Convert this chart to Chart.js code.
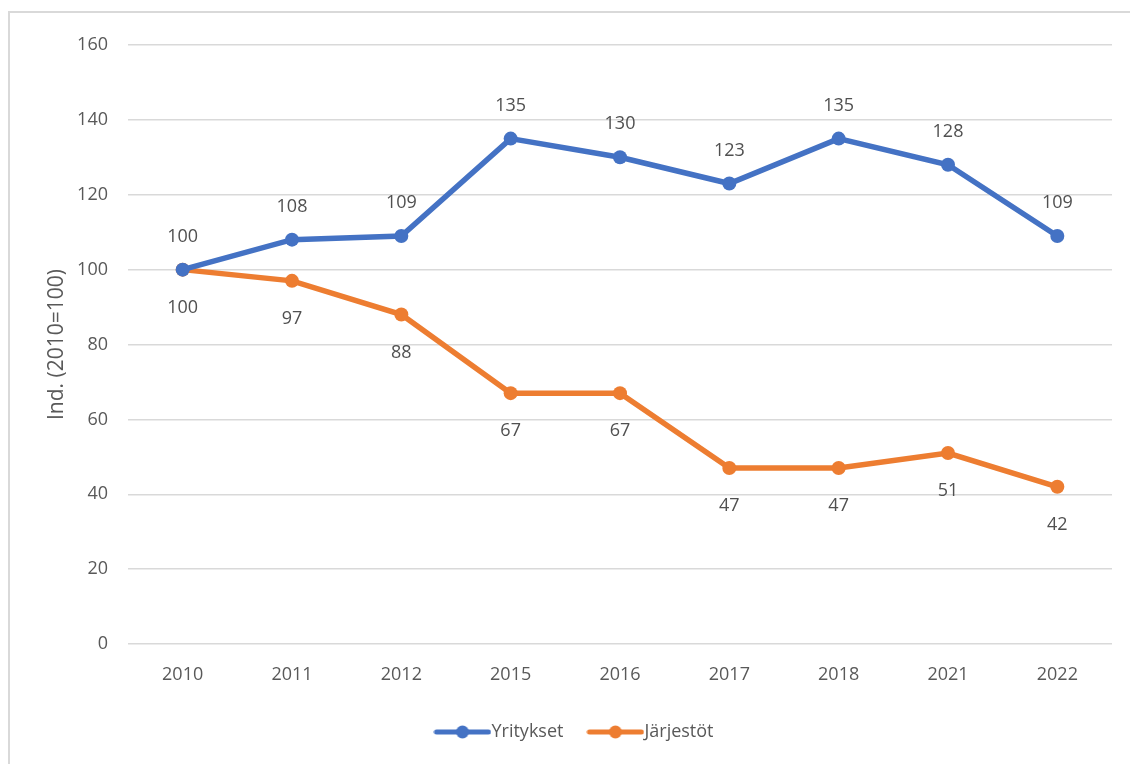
<!DOCTYPE html>
<html>
<head>
<meta charset="utf-8">
<script src="https://cdn.jsdelivr.net/npm/chart.js@4/dist/chart.umd.min.js"></script>
<style>
  html, body { margin: 0; padding: 0; background: #fff; }
  .frame {
    position: absolute; left: 8px; top: 11px; width: 1122px; height: 753px;
    border-left: 2px solid #d9d9d9; border-top: 2px solid #d9d9d9;
    box-sizing: border-box;
  }
  .wrap { position: absolute; left: 0; top: 0; width: 1130px; height: 764px; }
</style>
</head>
<body>
<div class="frame"></div>
<div class="wrap"><canvas id="chart"></canvas></div>
<script>
const years = ["2010", "2011", "2012", "2015", "2016", "2017", "2018", "2021", "2022"];
const yritykset = [100, 108, 109, 135, 130, 123, 135, 128, 109];
const jarjestot = [100, 97, 88, 67, 67, 47, 47, 51, 42];

const BLUE = "#4472c4";
const ORANGE = "#ed7d31";
const FONT = "'Open Sans', sans-serif";
const FONT_SIZE = 18;

// line-with-marker swatch for the legend
function legendSwatch(color) {
  const c = document.createElement("canvas");
  c.width = 58;
  c.height = 16;
  const g = c.getContext("2d");
  g.strokeStyle = color;
  g.lineWidth = 5;
  g.lineCap = "round";
  g.beginPath();
  g.moveTo(3, 8);
  g.lineTo(55, 8);
  g.stroke();
  g.fillStyle = color;
  g.beginPath();
  g.arc(29, 8, 6.5, 0, Math.PI * 2);
  g.fill();
  return c;
}

// value labels: first series above the points, second below
const valueLabels = {
  id: "valueLabels",
  afterDatasetsDraw(chart) {
    const { ctx } = chart;
    ctx.save();
    ctx.font = `${FONT_SIZE}px ${FONT}`;
    ctx.fillStyle = "#505050";
    ctx.textAlign = "center";
    ctx.textBaseline = "middle";
    chart.data.datasets.forEach((ds, i) => {
      const meta = chart.getDatasetMeta(i);
      const dy = i === 0 ? -33 : 38;
      meta.data.forEach((pt, j) => {
        ctx.fillText(String(ds.data[j]), pt.x, pt.y + dy);
      });
    });
    ctx.restore();
  },
};

// nudge the legend row a little to the right
const legendShift = {
  id: "legendShift",
  afterLayout(chart) {
    if (chart.legend) {
      chart.legend.left += 22;
      chart.legend.right += 22;
    }
  },
};

new Chart(document.getElementById("chart"), {
  type: "line",
  data: {
    labels: years,
    datasets: [
      {
        label: "Yritykset",
        data: yritykset,
        borderColor: BLUE,
        backgroundColor: BLUE,
        borderWidth: 5.5,
        pointRadius: 7,
        pointBorderWidth: 0,
        tension: 0,
      },
      {
        label: "Järjestöt",
        data: jarjestot,
        borderColor: ORANGE,
        backgroundColor: ORANGE,
        borderWidth: 5.5,
        pointRadius: 7,
        pointBorderWidth: 0,
        tension: 0,
      },
    ],
  },
  options: {
    responsive: true,
    maintainAspectRatio: false,
    animation: false,
    layout: { padding: { top: 45, right: 18, left: 0, bottom: 13 } },
    scales: {
      x: {
        offset: true,
        grid: { display: false, drawTicks: false },
        border: { display: false },
        ticks: { color: "#595959", font: { family: FONT, size: FONT_SIZE }, padding: 20 },
        afterFit: (scale) => { scale.height = 47; },
      },
      y: {
        min: 0,
        max: 160,
        ticks: {
          stepSize: 20,
          color: "#595959",
          font: { family: FONT, size: FONT_SIZE },
          padding: 20,
        },
        grid: { color: "#d9d9d9", lineWidth: 1.5, drawTicks: false },
        border: { display: false },
        title: {
          display: true,
          text: "Ind. (2010=100)",
          color: "#595959",
          font: { family: FONT, size: 21 },
          padding: { top: 44, bottom: 0 },
        },
        afterFit: (scale) => { scale.width = 128; },
      },
    },
    plugins: {
      legend: {
        position: "bottom",
        labels: {
          usePointStyle: true,
          pointStyleWidth: 40,
          padding: 32,
          color: "#595959",
          font: { family: FONT, size: FONT_SIZE },
          generateLabels(chart) {
            const items = Chart.defaults.plugins.legend.labels.generateLabels(chart);
            items.forEach((it, i) => {
              it.pointStyle = legendSwatch(i === 0 ? BLUE : ORANGE);
            });
            return items;
          },
        },
      },
      tooltip: { enabled: false },
    },
  },
  plugins: [valueLabels, legendShift],
});
</script>
</body>
</html>
